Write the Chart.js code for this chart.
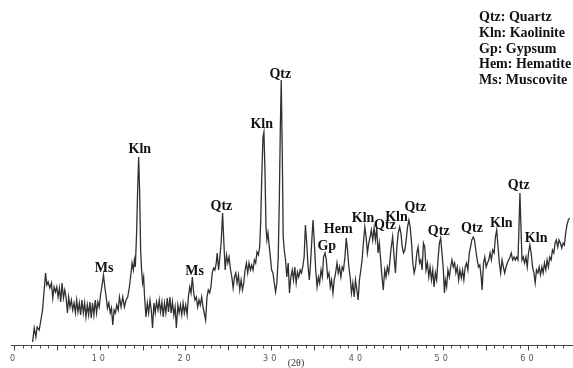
<!DOCTYPE html>
<html>
<head>
<meta charset="utf-8">
<script src="https://cdn.jsdelivr.net/npm/chart.js@4/dist/chart.umd.min.js"></script>
<style>
html,body{margin:0;padding:0;background:#fff;}
#c{display:block;}
</style>
</head>
<body>
<canvas id="c" width="573" height="368"></canvas>
<script>
// 2θ (degrees)
const twoTheta = [
2.17,2.36,2.55,2.70,2.94,3.10,3.33,3.52,3.68,3.83,3.98,4.18,4.37,4.52,4.68,4.84,4.99,5.14,5.30,5.45,
5.60,5.77,5.92,6.07,6.23,6.38,6.53,6.69,6.84,7.00,7.16,7.31,7.46,7.62,7.77,7.92,8.09,8.24,8.39,8.55,
8.70,8.85,9.01,9.16,9.32,9.48,9.63,9.78,9.94,10.09,10.24,10.44,10.59,10.75,10.90,11.06,11.22,11.37,11.52,11.68,
11.83,11.98,12.15,12.30,12.49,12.68,12.88,13.07,13.26,13.46,13.65,13.77,13.92,14.04,14.15,14.30,14.42,14.54,14.65,14.77,
14.88,15.00,15.12,15.23,15.39,15.55,15.70,15.86,16.01,16.16,16.32,16.47,16.62,16.79,16.94,17.09,17.25,17.40,17.55,17.71,
17.87,18.02,18.18,18.33,18.48,18.64,18.79,18.94,19.11,19.26,19.41,19.57,19.72,19.87,20.03,20.19,20.34,20.50,20.65,20.80,
20.96,21.11,21.26,21.43,21.58,21.73,21.89,22.04,22.19,22.35,22.51,22.66,22.82,22.97,23.12,23.28,23.43,23.59,23.70,23.86,
24.01,24.16,24.33,24.48,24.63,24.79,24.94,25.09,25.26,25.41,25.56,25.72,25.87,26.02,26.18,26.33,26.49,26.65,26.80,26.95,
27.11,27.26,27.41,27.58,27.73,27.88,28.04,28.19,28.34,28.50,28.65,28.77,28.89,29.04,29.15,29.27,29.39,29.50,29.62,29.73,
29.90,30.05,30.20,30.36,30.51,30.66,30.82,30.94,31.06,31.17,31.29,31.40,31.52,31.67,31.82,31.98,32.13,32.29,32.45,32.60,
32.75,32.91,33.06,33.21,33.38,33.53,33.68,33.84,33.99,34.14,34.30,34.45,34.61,34.77,34.88,35.03,35.19,35.35,35.50,35.65,
35.81,35.96,36.11,36.28,36.43,36.58,36.74,36.89,37.04,37.20,37.35,37.51,37.67,37.82,37.97,38.13,38.28,38.43,38.60,38.75,
38.90,39.06,39.21,39.36,39.52,39.68,39.83,39.99,40.14,40.29,40.45,40.60,40.75,40.92,41.07,41.22,41.38,41.53,41.68,41.84,
42.00,42.15,42.31,42.46,42.61,42.77,42.92,43.07,43.24,43.39,43.54,43.70,43.85,44.00,44.16,44.32,44.49,44.66,44.81,44.98,
45.13,45.28,45.44,45.59,45.74,45.90,46.06,46.21,46.37,46.52,46.67,46.83,46.98,47.13,47.30,47.45,47.60,47.76,47.91,48.06,
48.22,48.38,48.53,48.69,48.84,48.99,49.15,49.30,49.45,49.62,49.77,49.92,50.08,50.20,50.31,50.46,50.61,50.78,50.93,51.08,
51.24,51.39,51.54,51.70,51.86,52.01,52.17,52.32,52.47,52.63,52.78,52.94,53.10,53.25,53.40,53.56,53.71,53.86,54.03,54.18,
54.33,54.49,54.60,54.76,54.91,55.07,55.22,55.37,55.53,55.68,55.84,56.00,56.15,56.30,56.46,56.61,56.76,56.93,57.08,57.23,
57.39,57.54,57.69,57.85,58.00,58.16,58.32,58.47,58.62,58.78,58.90,59.01,59.13,59.25,59.40,59.55,59.71,59.86,60.01,60.17,
60.32,60.48,60.64,60.79,60.94,61.10,61.25,61.41,61.57,61.72,61.87,62.03,62.18,62.33,62.49,62.65,62.80,62.96,63.11,63.26,
63.42,63.57,63.72,63.89,64.04,64.19,64.35,64.50,64.65,64.81
];
// intensity (arbitrary units)
const intensity = [
3,17,8,18,15,23,35,55,72,60,63,57,62,47,58,53,58,48,57,43,
62,47,55,48,32,48,38,45,35,42,32,45,33,42,30,45,32,42,28,40,
30,43,27,42,30,45,32,43,38,50,58,70,58,48,37,42,32,37,20,35,
32,40,35,48,38,48,38,45,48,58,72,82,75,85,78,112,155,188,155,95,
75,62,68,48,28,42,32,45,35,17,42,32,43,35,45,33,43,28,42,32,
47,33,48,32,43,30,38,17,40,32,40,30,42,32,40,30,48,58,52,68,
52,45,48,38,45,40,48,38,32,25,48,55,52,58,72,77,75,82,92,75,
88,102,132,102,75,90,82,88,75,68,57,68,72,62,70,55,65,55,62,75,
82,72,82,75,80,75,85,82,93,90,98,122,165,208,213,175,118,105,112,102,
88,75,72,62,53,62,88,142,215,265,192,108,95,85,68,82,52,68,75,65,
78,62,73,68,75,72,78,88,120,102,78,65,85,110,125,102,75,58,68,62,
75,68,88,92,85,68,72,58,65,52,65,72,82,72,78,68,78,75,88,107,
95,78,68,52,62,48,65,55,45,65,75,85,102,118,108,92,102,108,115,105,
117,105,117,92,102,85,68,55,75,68,78,72,85,98,108,90,72,98,112,118,
112,98,92,95,105,118,125,118,102,82,72,78,92,98,82,85,75,102,98,75,
82,68,78,65,75,58,72,65,85,102,107,92,75,52,65,58,75,68,78,85,
78,82,72,78,65,75,67,75,65,78,82,75,92,98,105,108,105,95,85,78,
80,68,55,82,88,78,82,85,92,85,95,92,108,115,98,82,72,85,78,72,
78,82,85,88,92,85,88,85,88,85,118,152,118,85,88,82,88,78,92,100,
92,78,72,62,75,72,78,70,78,72,82,75,85,78,88,85,95,92,102,105,
98,105,102,97,102,100,112,120,125,127
];
// Phase annotations: text, 2θ position, intensity level of label baseline
const peakLabels = ["Ms","Kln","Ms","Qtz","Kln","Qtz","Gp","Hem","Kln","Qtz","Kln","Qtz","Qtz","Qtz","Kln","Qtz","Kln"];
const peakLabelTheta = [10.52,14.68,21.06,24.19,28.89,31.06,36.48,37.82,40.72,43.27,44.61,46.81,49.54,53.42,56.84,58.87,60.90];
const peakLabelLevel = [73,192.5,70,135.5,216.7,267.5,95,112.5,123,116,124,134,110,113,118.5,156.5,102.7];
// Legend key
const keyLines = ["Qtz: Quartz","Kln: Kaolinite","Gp: Gypsum","Hem: Hematite","Ms: Muscovite"];
const xTickLabelEvery = 10;
const axisTitle = "(2θ)";

const points = twoTheta.map((t,i)=>({x:t,y:intensity[i]}));

const deco = {
  id:'deco',
  beforeDraw(chart){ chart.ctx.letterSpacing = '3px'; },
  afterDraw(chart){
    const ctx = chart.ctx, xs = chart.scales.x, ys = chart.scales.y;
    ctx.save();
    ctx.letterSpacing = '0px';
    const yAxis = Math.round(ys.getPixelForValue(0)) + 0.5;
    ctx.strokeStyle = '#444';
    ctx.lineWidth = 1;
    ctx.beginPath();
    ctx.moveTo(xs.getPixelForValue(0) - 3, yAxis);
    ctx.lineTo(chart.width, yAxis);
    ctx.stroke();
    for (let v = 0; v <= 64; v++) {
      const px = Math.round(xs.getPixelForValue(v)) + 0.5;
      const len = (v % 5 === 0) ? 5 : 3;
      ctx.beginPath();
      ctx.moveTo(px, yAxis);
      ctx.lineTo(px, yAxis + len);
      ctx.stroke();
    }
    ctx.fillStyle = '#111';
    ctx.font = 'bold 14px "Liberation Serif"';
    ctx.textAlign = 'center';
    ctx.textBaseline = 'alphabetic';
    peakLabels.forEach((t,i)=>{
      ctx.fillText(t, xs.getPixelForValue(peakLabelTheta[i]), ys.getPixelForValue(peakLabelLevel[i]));
    });
    ctx.textAlign = 'left';
    keyLines.forEach((t,i)=>{ ctx.fillText(t, 479, 21 + i*15.8); });
    ctx.font = '10px "Liberation Serif"';
    ctx.fillStyle = '#333';
    ctx.textAlign = 'center';
    ctx.fillText(axisTitle, 296, 366);
    ctx.restore();
  }
};

new Chart(document.getElementById('c'), {
  type:'line',
  data:{ datasets:[{ data: points, borderColor:'#303030', borderWidth:1.3, pointRadius:0, tension:0, fill:false }] },
  options:{
    responsive:false, animation:false, devicePixelRatio:1,
    layout:{ padding:{ left:14, right:0, top:0, bottom:0 } },
    plugins:{ legend:{display:false}, tooltip:{enabled:false}, title:{display:false} },
    scales:{
      x:{ type:'linear', min:0, max:64.85,
          border:{display:false},
          grid:{ display:true, drawOnChartArea:false, drawTicks:true, tickLength:6, color:'rgba(0,0,0,0)' },
          ticks:{ stepSize:1, autoSkip:false, maxRotation:0, padding:3, color:'#555',
                  font:{ family:'DejaVu Sans', size:8 },
                  callback:(v)=> (Math.abs(v % xTickLabelEvery) < 1e-9 ? String(v) : '') },
          afterFit:(s)=>{ s.height = 23; } },
      y:{ display:false, min:0, max:345 }
    }
  },
  plugins:[deco]
});
</script>
</body>
</html>
